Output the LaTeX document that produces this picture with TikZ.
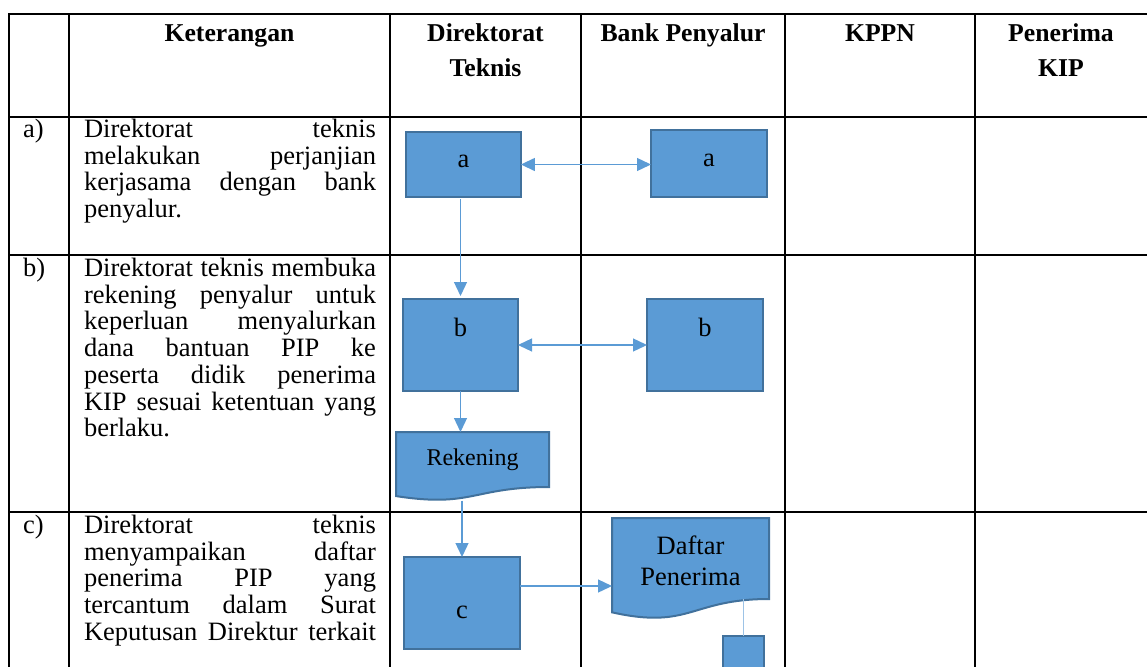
\documentclass[tikz,border=0pt]{standalone}
\usepackage{fontspec}
\setmainfont{Liberation Serif}
\usetikzlibrary{arrows.meta,calc,backgrounds}
\definecolor{boxfill}{HTML}{5B9BD5}
\definecolor{boxedge}{HTML}{41719C}
\definecolor{arrowc}{HTML}{5B9BD5}
\definecolor{lightline}{HTML}{9DC3E6}
\newcommand\jl[1]{\hbox to 292pt{#1}}
\newcommand\ctwo[2]{\vtop{\halign{\hfil##\hfil\cr#1\cr#2\cr}}}
\newcommand\cvtwo[2]{\vbox{\halign{\hfil##\hfil\cr#1\cr#2\cr}}}
\newcommand\docpath[1]{\path[docshape] (#1.north west) -- (#1.north east) -- ($(#1.north east)!0.802!(#1.south east)$) .. controls ($(#1.north)!0.802!(#1.south)$) and ($(#1.north)!1.1075!(#1.south)$) .. ($(#1.north west)!0.934!(#1.south west)$) -- cycle;}
\begin{document}
\begin{tikzpicture}[x=1pt,y=-1pt,
  grid/.style={line width=2.4pt, black, line cap=rect},
  body/.style={inner sep=0, outer sep=0, font=\fontsize{26.5}{26.7}\selectfont, anchor=base west},
  hdr/.style={inner sep=0, outer sep=0, font=\bfseries\fontsize{25.7}{35}\selectfont, anchor=base},
  proc/.style={draw=boxedge, fill=boxfill, line width=2pt, inner sep=0, outer sep=0, font=\fontsize{26.5}{30}\selectfont},
  doc/.style={draw=none, inner sep=0, outer sep=0},
  docshape/.style={draw=boxedge, fill=boxfill, line width=2pt},
  flow/.style={draw=arrowc, line width=1.3pt, -{Triangle[length=14pt,width=13pt]}},
  bflow/.style={draw=arrowc, line width=1.3pt, {Triangle[length=14pt,width=13pt]}-{Triangle[length=14pt,width=13pt]}},
  plain/.style={draw=lightline, line width=1.5pt}]

\clip (0,0) rectangle (1147,666);

% table grid
\foreach \x in {9,69,390,581,785,975} \draw[grid] (\x,14) -- (\x,690);
\foreach \y in {14,117,255,512} \draw[grid] (9,\y) -- (1170,\y);

% headers
\node[hdr] (hKet) at (229.5,41.5) {Keterangan};
\node[hdr] (hDir) at (485.5,41.5) {\ctwo{Direktorat}{Teknis}};
\node[hdr] (hBank) at (683,41.5) {Bank Penyalur};
\node[hdr] (hKPPN) at (880,41.5) {KPPN};
\node[hdr] (hKIP) at (1061,41.5) {\ctwo{Penerima}{KIP}};

% row labels
\node[body] (la) at (23,137.5) {a)};
\node[body] (lb) at (23,276.5) {b)};
\node[body] (lc) at (23,533.5) {c)};

% descriptions
\node[body] (ta) at (84,137.5) {\vtop{%
  \jl{Direktorat\hfill teknis}%
  \jl{melakukan\hfill perjanjian}%
  \jl{kerjasama\hfill dengan\hfill bank}%
  \jl{penyalur.\hfill}}};
\node[body] (tb) at (84,276.5) {\vtop{%
  \jl{Direktorat\hfill teknis\hfill membuka}%
  \jl{rekening\hfill penyalur\hfill untuk}%
  \jl{keperluan\hfill menyalurkan}%
  \jl{dana\hfill bantuan\hfill PIP\hfill ke}%
  \jl{peserta\hfill didik\hfill penerima}%
  \jl{KIP\hfill sesuai\hfill ketentuan\hfill yang}%
  \jl{berlaku.\hfill}}};
\node[body] (tc) at (84,533.5) {\vtop{%
  \jl{Direktorat\hfill teknis}%
  \jl{menyampaikan\hfill daftar}%
  \jl{penerima\hfill PIP\hfill yang}%
  \jl{tercantum\hfill dalam\hfill Surat}%
  \jl{Keputusan\hfill Direktur\hfill terkait}}};

% flow boxes
\node[proc, minimum width=115pt, minimum height=65pt, text height=12pt, text depth=6pt] (aL) at (463.4,164.5) {a};
\node[proc, minimum width=116pt, minimum height=67pt, text height=12pt, text depth=6pt] (aR) at (709,163.5) {a};
\node[proc, minimum width=115pt, minimum height=92pt, text height=18pt, text depth=35pt] (bL) at (460.5,345) {b};
\node[proc, minimum width=116pt, minimum height=92pt, text height=18pt, text depth=35pt] (bR) at (705,345) {b};
\node[doc, minimum width=153pt, minimum height=68.6pt, text height=17pt, text depth=19.6pt, font=\fontsize{24}{28}\selectfont] (rek) at (472.5,466.3) {Rekening};
\node[proc, minimum width=116pt, minimum height=92pt, text height=31pt, text depth=0pt] (cB) at (462,603) {c};
\node[doc, minimum width=157pt, minimum height=101pt, text height=48pt, text depth=15pt, font=\fontsize{26.5}{31}\selectfont] (daf) at (690.5,568.5) {\cvtwo{Daftar}{Penerima}};
\node[proc, minimum width=41pt, minimum height=54pt] (sm) at (743.5,663) {};

\begin{scope}[on background layer]
  \docpath{rek}
  \docpath{daf}
\end{scope}

% connectors
\draw[bflow] (aL.east) -- (aL.east -| aR.west);
\draw[flow, shorten <=2pt, shorten >=3pt] (aL.south -| bL.north) -- (bL.north);
\draw[bflow] (bL.east) -- (bL.east -| bR.west);
\draw[flow] (bL.south) -- (bL.south |- rek.north);
\draw[flow] (cB.north |- rek.south) -- (cB.north);
\coordinate (cout) at ($(cB.east)+(0,-17)$);
\draw[flow] (cout) -- (cout -| daf.west);
\coordinate (dfb) at ($(daf.north)!0.802!(daf.south)$);
\draw[plain] (sm.north |- dfb) -- (sm.north);
\end{tikzpicture}
\end{document}
